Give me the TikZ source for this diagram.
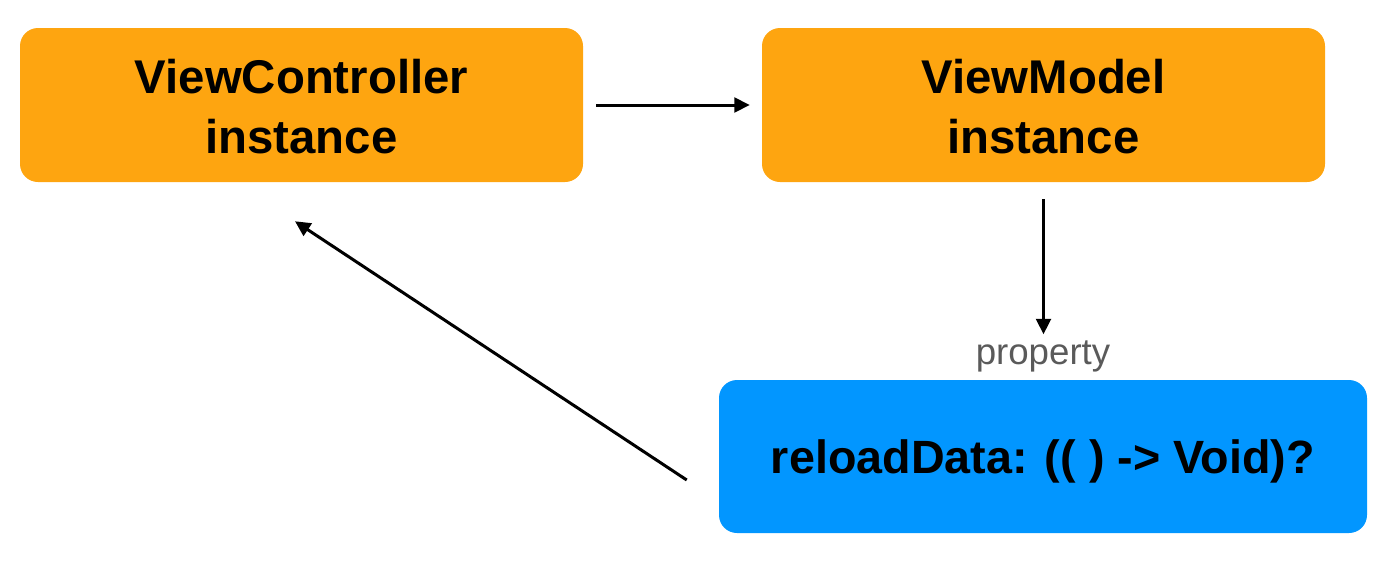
\documentclass[tikz,border=0pt]{standalone}
\usepackage{fontspec}
\setmainfont{Liberation Sans}
\usetikzlibrary{arrows.meta,calc}
\definecolor{boxorange}{RGB}{254,165,16}
\definecolor{boxblue}{RGB}{2,150,255}
\definecolor{labelgray}{RGB}{90,90,90}
\tikzset{
  orangebox/.style={draw=none,fill=boxorange,rounded corners=13.5pt,minimum width=422.25pt,minimum height=115.5pt,inner sep=0pt},
  bluebox/.style={draw=none,fill=boxblue,rounded corners=13.5pt,minimum width=486pt,minimum height=114.75pt,inner sep=0pt},
  boxtext/.style={align=center,font=\fontsize{35.5}{45}\selectfont\bfseries,inner sep=0pt},
  conn/.style={line width=2.25pt,-{Triangle[length=11.5pt,width=11pt]}},
  lbl/.style={text=labelgray,font=\fontsize{27.5}{32}\selectfont,inner sep=0pt}
}
\begin{document}
\begin{tikzpicture}[x=0.75pt,y=-0.75pt]
\useasboundingbox (0,0) rectangle (1400,562);
\node[orangebox] (vc) at (301.5,105) {};
\node[boxtext] (vctext) at ($(vc.center)+(0,2)$) {ViewController\\instance};
\node[orangebox] (vm) at (1043.5,105) {};
\node[boxtext] (vmtext) at ($(vm.center)+(0,2)$) {ViewModel\\instance};
\node[bluebox] (rd) at (1043,456.5) {};
\node[boxtext,font=\fontsize{35}{45}\selectfont\bfseries] (rdtext) at ($(rd.center)+(0,4.5)$) {reloadData: (( ) -> Void)?};
\node[lbl] (prop) at (1043,356) {property};
\draw[conn,shorten <=9.75pt,shorten >=9pt] (vc.east) -- (vm.west);
\draw[conn] ($(vm.south)+(0,17)$) -- ($(vm.south)+(0,152)$);
\draw[conn] ($(rd.west)+(-32,23.5)$) -- ($(vc.south)+(-6.5,39)$);
\end{tikzpicture}
\end{document}
